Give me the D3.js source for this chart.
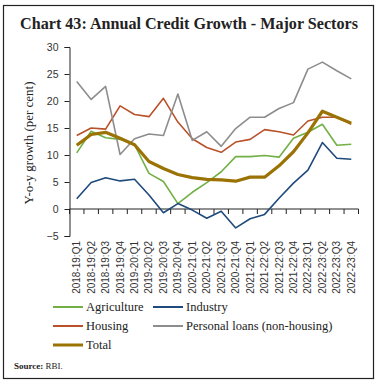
<!DOCTYPE html>
<html>
<head>
<meta charset="utf-8">
<script src="https://cdn.jsdelivr.net/npm/d3@7"></script>
<style>
  body { margin: 0; background: #fff; }
  svg { display: block; }
</style>
</head>
<body>
<div id="chart"></div>
<script>
// quarters on the x axis
var quarters = ["2018-19:Q1", "2018-19:Q2", "2018-19:Q3", "2018-19:Q4",
                "2019-20:Q1", "2019-20:Q2", "2019-20:Q3", "2019-20:Q4",
                "2020-21:Q1", "2020-21:Q2", "2020-21:Q3", "2020-21:Q4",
                "2021-22:Q1", "2021-22:Q2", "2021-22:Q3", "2021-22:Q4",
                "2022-23:Q1", "2022-23:Q2", "2022-23:Q3", "2022-23:Q4"];

var agriculture = [10.4, 14.4, 13.2, 12.9, 11.9, 6.6, 5.1, 1.0, 3.1, 4.9,
                   6.9, 9.7, 9.7, 9.9, 9.6, 13.1, 14.2, 15.7, 11.8, 12.0];
var industry    = [1.9, 4.9, 5.8, 5.2, 5.5, 2.6, -0.7, 1.0, -0.2, -1.7,
                   -0.4, -3.5, -1.8, -1.0, 2.0, 4.8, 7.2, 12.3, 9.4, 9.2];
var housing     = [13.6, 15.0, 14.8, 19.1, 17.5, 17.1, 20.5, 16.1, 13.0, 11.4,
                   10.5, 12.4, 12.9, 14.7, 14.3, 13.7, 16.3, 17.0, 17.0, 15.7];
var personal    = [23.6, 20.3, 22.7, 10.1, 13.0, 13.9, 13.6, 21.3, 12.7, 14.3,
                   11.6, 14.9, 17.0, 17.0, 18.6, 19.7, 25.9, 27.2, 25.6, 24.1];
var total       = [11.8, 13.8, 14.2, 13.1, 11.9, 8.8, 7.5, 6.4, 5.8, 5.5,
                   5.4, 5.15, 5.9, 5.9, 8.0, 10.6, 14.1, 18.1, 17.0, 15.9];

var yTicks = [-5, 0, 5, 10, 15, 20, 25, 30];

var series = [
  { name: "Agriculture", values: agriculture, color: "#72b045", width: 1.6 },
  { name: "Industry", values: industry, color: "#1f4a7c", width: 1.6 },
  { name: "Housing", values: housing, color: "#b9522a", width: 1.6 },
  { name: "Personal loans (non-housing)", values: personal, color: "#8d8d8d", width: 1.6 },
  { name: "Total", values: total, color: "#9b7305", width: 3.2 }
];

var W = 380, H = 383;
var svg = d3.select("#chart").append("svg")
            .attr("width", W)
            .attr("height", H);

// frame
svg.append("rect")
   .attr("x", 3.5).attr("y", 5.5)
   .attr("width", 370).attr("height", 373)
   .style("fill", "none")
   .style("stroke", "#222")
   .style("stroke-width", 1.2);

var title = svg.append("text")
   .attr("x", 189).attr("y", 29)
   .attr("text-anchor", "middle")
   .style("font-family", "'Liberation Serif', serif")
   .style("font-weight", "bold")
   .style("font-size", "18px")
   .style("fill", "#222")
   .text("Chart 43: Annual Credit Growth - Major Sectors");
var tl = title.node().getComputedTextLength();
if (tl > 338) title.style("font-size", (18 * 338 / tl) + "px");

var x = d3.scaleBand().domain(quarters).range([69.5, 358.5]);
var y = d3.scaleLinear().domain([-5, 30]).range([236, 47]);

// y axis
var yAxis = svg.append("g")
   .attr("transform", "translate(69.5,0)")
   .call(d3.axisLeft(y).tickValues(yTicks).tickSize(5).tickPadding(6));
yAxis.select(".domain").attr("stroke", "#222");
yAxis.selectAll(".tick line").attr("stroke", "#222");
yAxis.selectAll("text")
   .style("font-family", "'Liberation Sans', Arial, sans-serif")
   .style("font-size", "10.5px")
   .style("fill", "#333");

// x axis on zero line, ticks at band edges
var xg = svg.append("g").attr("transform", "translate(0," + y(0) + ")");
xg.append("line")
   .attr("x1", x.range()[0]).attr("x2", x.range()[1])
   .attr("stroke", "#222");
var edges = quarters.map(function(q) { return x(q); }).concat([x.range()[1]]);
xg.selectAll(".edge").data(edges).enter().append("line")
   .attr("x1", function(d) { return d; })
   .attr("x2", function(d) { return d; })
   .attr("y1", 0).attr("y2", 5)
   .attr("stroke", "#222");

// rotated quarter labels below the plot
svg.selectAll(".qlab").data(quarters).enter().append("text")
   .attr("transform", function(d) {
     return "translate(" + (x(d) + x.bandwidth() / 2 + 3.5) + ",241) rotate(-90)";
   })
   .attr("text-anchor", "end")
   .style("font-family", "'Liberation Sans', Arial, sans-serif")
   .style("font-size", "10px")
   .style("fill", "#333")
   .text(function(d) { return d; });

svg.append("text")
   .attr("transform", "translate(33,143) rotate(-90)")
   .attr("text-anchor", "middle")
   .style("font-family", "'Liberation Serif', serif")
   .style("font-size", "13px")
   .style("fill", "#222")
   .text("Y-o-y growth (per cent)");

var line = d3.line()
   .x(function(d, i) { return x(quarters[i]) + x.bandwidth() / 2; })
   .y(function(d) { return y(d); });

svg.selectAll(".series").data(series).enter().append("path")
   .attr("d", function(d) { return line(d.values); })
   .style("fill", "none")
   .style("stroke", function(d) { return d.color; })
   .style("stroke-width", function(d) { return d.width; })
   .style("stroke-linejoin", "round");

// legend
var legPos = [[53, 307], [153, 307], [53, 326], [153, 326], [53, 345]];
var leg = svg.selectAll(".leg").data(series).enter().append("g")
   .attr("transform", function(d, i) { return "translate(" + legPos[i][0] + "," + legPos[i][1] + ")"; });
leg.append("line")
   .attr("x1", 0).attr("x2", 30)
   .style("stroke", function(d) { return d.color; })
   .style("stroke-width", function(d) { return d.width > 2 ? 3 : 2; });
leg.append("text")
   .attr("x", 33).attr("y", 4)
   .style("font-family", "'Liberation Serif', serif")
   .style("font-size", "12.5px")
   .style("fill", "#222")
   .text(function(d) { return d.name; });

var src = svg.append("text")
   .attr("x", 14).attr("y", 369)
   .style("font-family", "'Liberation Serif', serif")
   .style("font-size", "9px")
   .style("fill", "#222");
src.append("tspan").style("font-weight", "bold").text("Source: ");
src.append("tspan").text("RBI.");
</script>
</body>
</html>
